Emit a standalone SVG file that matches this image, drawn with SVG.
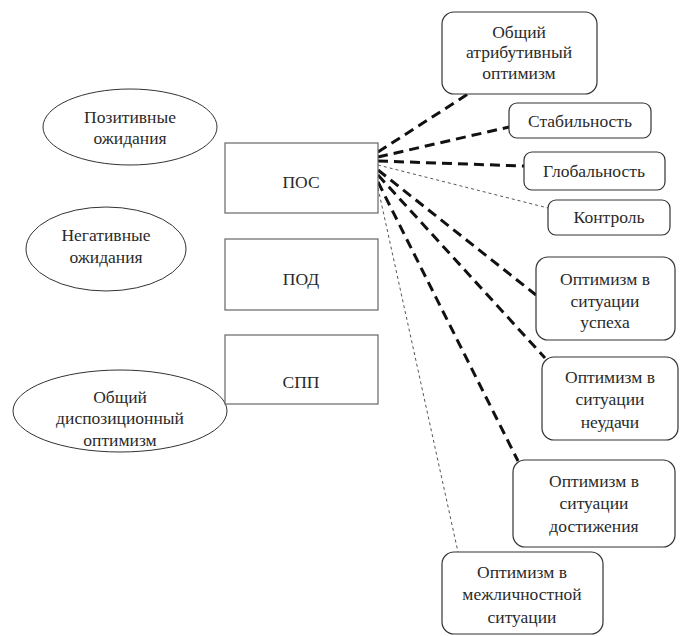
<svg xmlns="http://www.w3.org/2000/svg" width="683" height="636" viewBox="0 0 683 636" font-family="'Liberation Serif', 'DejaVu Serif', serif">
<style>
text{font-family:'Liberation Serif','DejaVu Serif',serif;font-size:17.5px;fill:#2a2a2a;text-anchor:middle}
.ell{fill:#fff;stroke:#333;stroke-width:1}
.box{fill:#fff;stroke:#666;stroke-width:1.2}
.rbox{fill:#fff;stroke:#333;stroke-width:1.2}
.thick{stroke:#111;stroke-width:3;stroke-dasharray:10 6;fill:none}
.thin{stroke:#555;stroke-width:1;stroke-dasharray:3 3;fill:none}
</style>
<rect width="683" height="636" fill="#fff"/>
<g id="connectors">
<line class="thick" x1="378" y1="152" x2="468" y2="94"/>
<line class="thick" x1="378" y1="157" x2="509" y2="127"/>
<line class="thick" x1="378" y1="161" x2="524" y2="166"/>
<line class="thin" x1="378" y1="165" x2="548" y2="208"/>
<line class="thick" x1="378" y1="170" x2="536" y2="295"/>
<line class="thick" x1="378" y1="175" x2="545" y2="358"/>
<line class="thick" x1="378" y1="182" x2="518" y2="461"/>
<line class="thin" x1="378" y1="188" x2="458" y2="552"/>
</g>
<g id="pos-exp"><ellipse class="ell" cx="130" cy="127" rx="87" ry="38"/><text x="130" y="123">Позитивные</text><text x="130" y="144">ожидания</text></g>
<g id="neg-exp"><ellipse class="ell" cx="106" cy="249" rx="80" ry="42"/><text x="106" y="241">Негативные</text><text x="106" y="263">ожидания</text></g>
<g id="disp"><ellipse class="ell" cx="120" cy="411" rx="107" ry="41"/><text x="120" y="403">Общий</text><text x="120" y="424">диспозиционный</text><text x="120" y="446">оптимизм</text></g>
<g id="pos"><rect class="box" x="225" y="143" width="153" height="70"/><text x="301" y="188">ПОС</text></g>
<g id="pod"><rect class="box" x="225" y="239" width="153" height="71"/><text x="301" y="285">ПОД</text></g>
<g id="spp"><rect class="box" x="225" y="335" width="153" height="69"/><text x="301" y="388">СПП</text></g>
<g id="attr"><rect class="rbox" x="442" y="12" width="155" height="82" rx="12"/><text x="519" y="38">Общий</text><text x="519" y="58">атрибутивный</text><text x="519" y="79">оптимизм</text></g>
<g id="stab"><rect class="rbox" x="509" y="103" width="142" height="35" rx="8"/><text x="580" y="127">Стабильность</text></g>
<g id="glob"><rect class="rbox" x="524" y="152" width="141" height="38" rx="8"/><text x="594" y="177">Глобальность</text></g>
<g id="ctrl"><rect class="rbox" x="548" y="200" width="122" height="35" rx="8"/><text x="609" y="223">Контроль</text></g>
<g id="success"><rect class="rbox" x="536" y="257" width="139" height="83" rx="12"/><text x="605" y="285">Оптимизм в</text><text x="605" y="307">ситуации</text><text x="605" y="328">успеха</text></g>
<g id="failure"><rect class="rbox" x="542" y="357" width="136" height="83" rx="12"/><text x="610" y="383">Оптимизм в</text><text x="610" y="405">ситуации</text><text x="610" y="428">неудачи</text></g>
<g id="achieve"><rect class="rbox" x="513" y="460" width="162" height="87" rx="12"/><text x="594" y="487">Оптимизм в</text><text x="594" y="509">ситуации</text><text x="594" y="532">достижения</text></g>
<g id="interp"><rect class="rbox" x="442" y="552" width="161" height="82" rx="12"/><text x="522" y="578">Оптимизм в</text><text x="522" y="600">межличностной</text><text x="522" y="623">ситуации</text></g>
</svg>
